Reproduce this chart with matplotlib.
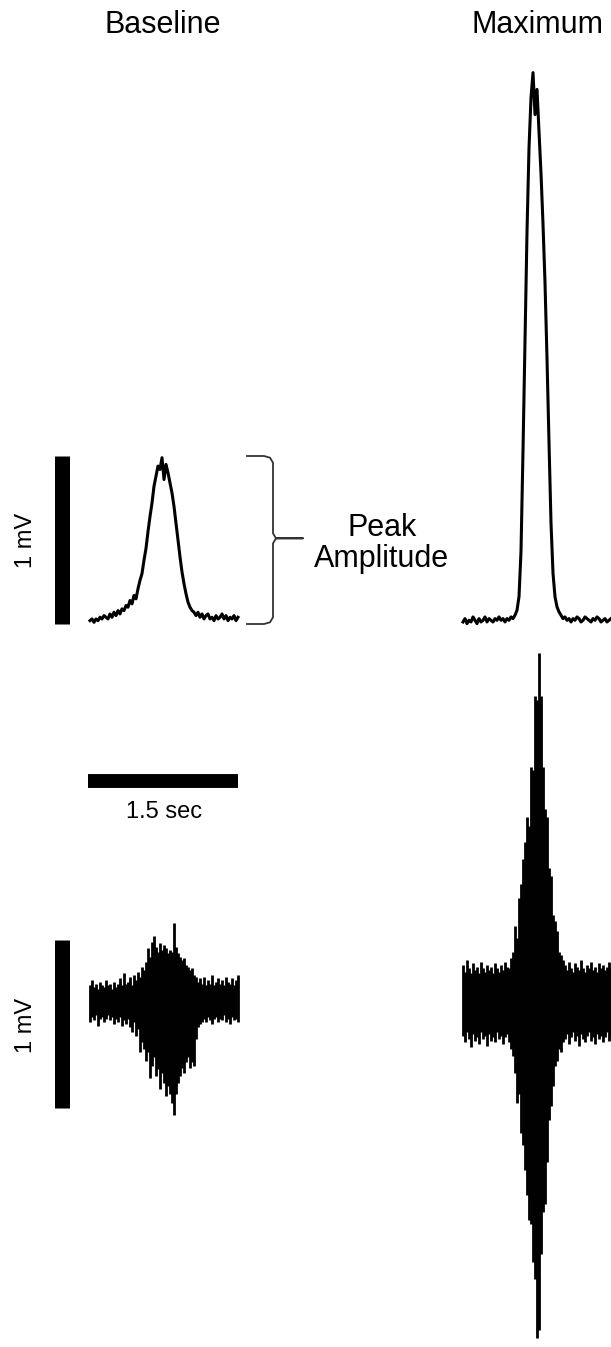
import numpy as np
import matplotlib
matplotlib.use("Agg")
import matplotlib.pyplot as plt

plt.rcParams['font.family'] = ['Liberation Sans', 'DejaVu Sans']

# sample step of the traces (s) and trace values (mV)
dt = 0.02
base_env = [0.02, 0.03, 0.01, 0.03, 0.02, 0.04, 0.03, 0.05, 0.04, 0.03, 0.06, 0.04, 0.07, 0.05, 0.08, 0.06, 0.09, 0.08,
            0.11, 0.10, 0.14, 0.12, 0.17, 0.15, 0.21, 0.26, 0.30, 0.38, 0.45,
            0.55, 0.64, 0.72, 0.82, 0.88, 0.94, 0.92, 0.99,
            0.86, 0.95, 0.90, 0.84, 0.78, 0.70, 0.60, 0.50,
            0.40, 0.31, 0.24, 0.18, 0.13, 0.10, 0.08, 0.07,
            0.05, 0.07, 0.04, 0.06, 0.03, 0.05, 0.06, 0.03, 0.04, 0.02, 0.05, 0.03, 0.04, 0.06, 0.03, 0.05, 0.02,
            0.04, 0.03, 0.05, 0.02, 0.04]
max_env = [0.03, 0.05, 0.02, 0.04, 0.03, 0.06, 0.04, 0.02, 0.05, 0.03, 0.04, 0.06, 0.03, 0.05, 0.04, 0.03, 0.05, 0.04,
           0.06, 0.04, 0.05, 0.03, 0.05, 0.04, 0.06, 0.05, 0.07, 0.10,
           0.18, 0.45, 1.05, 1.70, 2.35, 2.85, 3.15, 3.30, 3.05, 3.20, 2.95, 2.70, 2.40, 2.05, 1.60, 1.10, 0.62, 0.32,
           0.18, 0.12, 0.09, 0.07,
           0.05, 0.06, 0.04, 0.05, 0.03, 0.05, 0.04, 0.06, 0.05, 0.03, 0.04, 0.06, 0.05, 0.04, 0.03, 0.05, 0.04, 0.06,
           0.05, 0.03, 0.04, 0.05, 0.03, 0.04, 0.05]

# raw EMG drawn as min/max per sample
base_raw_hi = [0.10, 0.13, 0.09, 0.11, 0.08, 0.12, 0.10, 0.09, 0.13, 0.10, 0.11, 0.08, 0.12, 0.09, 0.11, 0.14,
               0.10, 0.17, 0.11, 0.12, 0.15, 0.10, 0.16,
               0.13, 0.18, 0.15, 0.21, 0.19,
               0.24, 0.32, 0.27, 0.36, 0.39,
               0.33, 0.30, 0.35, 0.31, 0.34,
               0.32, 0.29, 0.31, 0.30,
               0.47,
               0.33, 0.29, 0.27,
               0.25, 0.26, 0.22, 0.21,
               0.19, 0.20, 0.16, 0.15,
               0.12, 0.14, 0.11,
               0.15, 0.10, 0.13, 0.11, 0.16, 0.10, 0.12, 0.14, 0.11, 0.13, 0.10, 0.15, 0.12, 0.11, 0.14, 0.10, 0.13, 0.16]
base_raw_lo = [-0.12, -0.09, -0.11, -0.08, -0.14, -0.10, -0.09, -0.12, -0.10, -0.08, -0.11, -0.09, -0.13, -0.10, -0.12, -0.09,
               -0.14, -0.11, -0.13, -0.10, -0.15, -0.18, -0.12,
               -0.20, -0.16, -0.30, -0.24, -0.28,
               -0.35, -0.30, -0.45, -0.38, -0.33,
               -0.44, -0.40, -0.52, -0.42, -0.48,
               -0.56, -0.50, -0.55, -0.60,
               -0.67,
               -0.55, -0.48, -0.44,
               -0.39, -0.42, -0.36, -0.33,
               -0.39, -0.36, -0.38, -0.22,
               -0.15, -0.13, -0.12,
               -0.10, -0.12, -0.09, -0.11, -0.13, -0.10, -0.09, -0.12, -0.10, -0.11, -0.08, -0.12, -0.10, -0.13, -0.09,
               -0.11, -0.10, -0.12]
max_raw_hi = [0.22, 0.18, 0.25, 0.20, 0.17, 0.23, 0.19, 0.21, 0.17, 0.24, 0.20, 0.18, 0.22, 0.19, 0.21, 0.17, 0.23, 0.20,
              0.18, 0.22, 0.19, 0.24, 0.21, 0.20, 0.26,
              0.30, 0.45, 0.38, 0.62, 0.70, 0.85,
              0.95, 1.10, 1.05, 1.40, 1.38, 1.82, 1.80,
              2.08,
              1.82, 1.40, 1.15, 1.10, 0.80, 0.75,
              0.52, 0.48, 0.42, 0.30, 0.28, 0.25,
              0.22, 0.19, 0.24, 0.20, 0.18, 0.23, 0.21, 0.19, 0.25, 0.20, 0.18, 0.22, 0.20, 0.24, 0.19, 0.21, 0.18, 0.23,
              0.20, 0.22, 0.19, 0.21, 0.24, 0.20]
max_raw_lo = [-0.20, -0.24, -0.18, -0.22, -0.27, -0.19, -0.23, -0.21, -0.25, -0.18, -0.22, -0.20, -0.26, -0.19, -0.23, -0.21,
              -0.24, -0.18, -0.22, -0.20, -0.25, -0.21, -0.19, -0.24, -0.28,
              -0.32, -0.42, -0.60, -0.55, -0.78, -0.85,
              -1.00, -1.15, -1.30, -1.32, -1.55, -1.65, -2.00,
              -1.95,
              -1.50, -1.25, -1.20, -0.95, -0.70, -0.62,
              -0.50, -0.38, -0.35, -0.28, -0.30, -0.24,
              -0.22, -0.19, -0.25, -0.21, -0.18, -0.23, -0.20, -0.26, -0.19, -0.22, -0.24, -0.20, -0.18, -0.23, -0.21,
              -0.25, -0.19, -0.22, -0.20, -0.24, -0.21, -0.18, -0.23, -0.20]

titles = ["Baseline", "Maximum"]
scale_mv = 1.0
scale_sec = 1.5

W, H = 611, 1347
PX_S, PX_MV = 100.0, 168.0
fig = plt.figure(figsize=(W / 100, H / 100), dpi=100)


def make_axes(box, t_zero_px, v_zero_px):
    x0, y0, x1, y1 = box
    ax = fig.add_axes([x0 / W, 1 - y1 / H, (x1 - x0) / W, (y1 - y0) / H])
    ax.set_xlim((x0 - t_zero_px) / PX_S, (x1 - t_zero_px) / PX_S)
    ax.set_ylim((v_zero_px - y1) / PX_MV, (v_zero_px - y0) / PX_MV)
    ax.axis('off')
    return ax


def ftext(x, y, s, **kw):
    fig.text(x / W, 1 - y / H, s, ha='center', va='center', **kw)


t = np.arange(len(base_env)) * dt

ax_tl = make_axes((0, 40, 310, 660), 90, 624)
ax_tr = make_axes((440, 40, 611, 660), 463, 627)
ax_bl = make_axes((0, 640, 310, 1347), 90, 1002)
ax_br = make_axes((440, 640, 611, 1347), 463, 1002)

ax_tl.plot(t, base_env, color='black', lw=2.2)
ax_tr.plot(t, max_env, color='black', lw=2.2)
ax_bl.vlines(t, base_raw_lo, base_raw_hi, color='black', lw=2.0)
ax_br.vlines(t, max_raw_lo, max_raw_hi, color='black', lw=2.0)

# scale bars
ax_tl.plot([-0.28, -0.28], [0, scale_mv], color='black', lw=10.8, solid_capstyle='butt')
ax_bl.plot([-0.28, -0.28], [-0.63, -0.63 + scale_mv], color='black', lw=10.8, solid_capstyle='butt')
ax_bl.plot([-0.02, -0.02 + scale_sec], [1.315, 1.315], color='black', lw=10.0, solid_capstyle='butt')

# bracket for peak amplitude
bx = [1.57, 1.74, 1.80, 1.83, 1.83, 1.86, 2.13, 1.86, 1.83, 1.83, 1.80, 1.74, 1.57]
by = [1.0, 1.0, 0.99, 0.96, 0.54, 0.51, 0.51, 0.51, 0.48, 0.04, 0.01, 0.0, 0.0]
ax_tl.plot(bx, by, color='#333333', lw=1.3, clip_on=False)

ftext(163, 25, titles[0], fontsize=22)
ftext(537, 25, titles[1], fontsize=22)
ftext(382, 528, "Peak", fontsize=22)
ftext(382, 559, "Amplitude", fontsize=22)
ftext(164, 812, "1.5 sec", fontsize=17)
ftext(26, 540, "1 mV", fontsize=17, rotation=90)
ftext(26, 1025, "1 mV", fontsize=17, rotation=90)

fig.savefig("out.png", dpi=100, facecolor='white')
